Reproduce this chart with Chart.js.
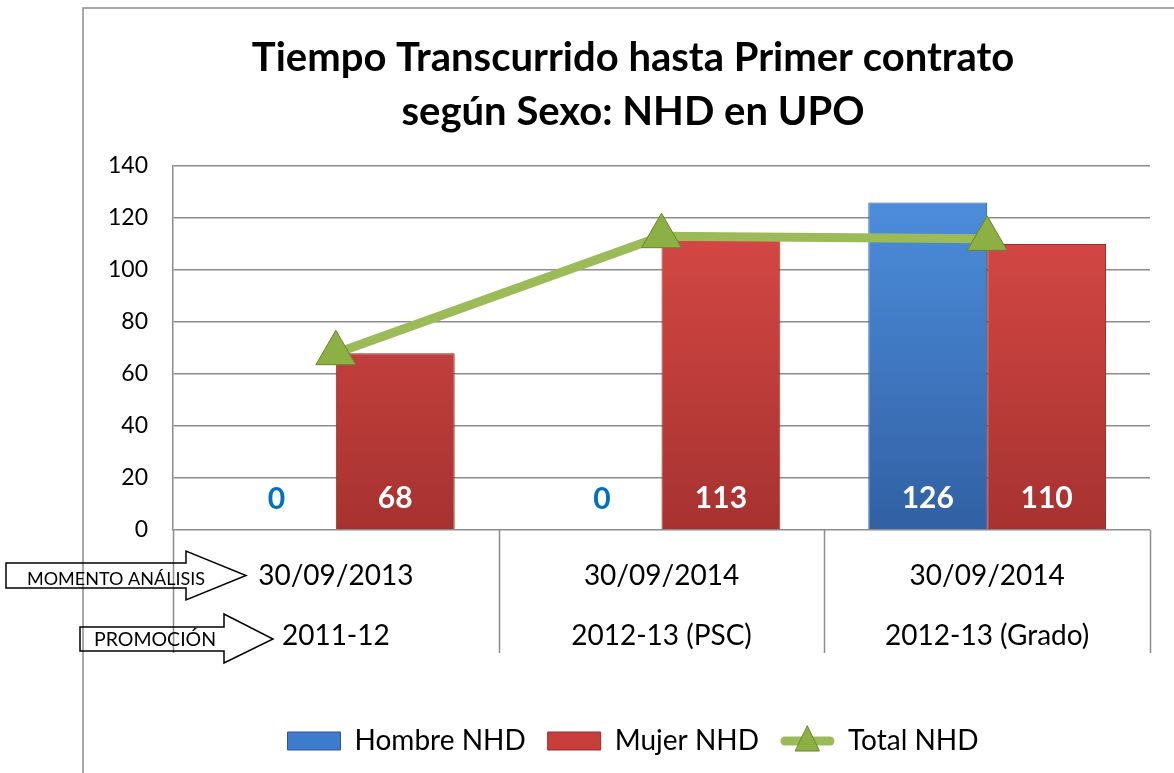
<!DOCTYPE html>
<html>
<head>
<meta charset="utf-8">
<script src="https://cdn.jsdelivr.net/npm/chart.js@4/dist/chart.umd.min.js"></script>
<style>
    html, body { margin: 0; padding: 0; background: #fff; }
    #wrap { width: 1174px; height: 773px; position: relative; }
</style>
</head>
<body>
<div id="wrap"><canvas id="nhdChart"></canvas></div>
<script>
// Data
const categories = [
    ['30/09/2013', '2011-12'],
    ['30/09/2014', '2012-13 (PSC)'],
    ['30/09/2014', '2012-13 (Grado)']
];
const hombreNHD = [0, 0, 126];
const mujerNHD = [68, 113, 110];
const totalNHD = [68, 113, 112];
const yTicks = [0, 20, 40, 60, 80, 100, 120, 140];

const FONT = 'Lato, "Open Sans", sans-serif';
const GRID = '#8c8c8c';
const colors = {
    hombre: { top: '#4f92e2', bottom: '#3160a3', flat: '#3f7bcc' },
    mujer: { top: '#de4c48', bottom: '#a63230', flat: '#c83e3b' },
    total: { line: '#9bbb59', marker: '#8cb044', markerBorder: '#66852b' }
};

function barGradient(key) {
    return function (ctx) {
        const area = ctx.chart.chartArea;
        if (!area) return colors[key].flat;
        const g = ctx.chart.ctx.createLinearGradient(0, area.top, 0, area.bottom);
        g.addColorStop(0, colors[key].top);
        g.addColorStop(1, colors[key].bottom);
        return g;
    };
}

// Values written near the foot of each bar
const barValueLabels = {
    id: 'barValueLabels',
    afterDatasetsDraw(chart) {
        const ctx = chart.ctx;
        ctx.save();
        ctx.font = 'bold 30px ' + FONT;
        ctx.textAlign = 'center';
        ctx.textBaseline = 'middle';
        [0, 1].forEach(di => {
            const meta = chart.getDatasetMeta(di);
            const data = chart.data.datasets[di].data;
            meta.data.forEach((bar, i) => {
                ctx.fillStyle = data[i] === 0 ? '#0070c0' : '#ffffff';
                ctx.fillText(String(data[i]), bar.x, bar.base - 31);
            });
        });
        ctx.restore();
    }
};

// Frame, category separators, the two arrow call-outs and the legend line marker
const decorations = {
    id: 'decorations',
    afterDraw(chart) {
        const ctx = chart.ctx;
        const x = chart.scales.x;
        const area = chart.chartArea;
        ctx.save();

        // outer frame (left and top edges)
        ctx.strokeStyle = '#8c8c8c';
        ctx.lineWidth = 1.5;
        ctx.beginPath();
        ctx.moveTo(83, 773);
        ctx.lineTo(83, 8);
        ctx.lineTo(1174, 8);
        ctx.stroke();

        // separators between the multi-level category labels
        const n = categories.length;
        const w = (x.right - x.left) / n;
        ctx.strokeStyle = GRID;
        ctx.lineWidth = 1.5;
        for (let i = 0; i <= n; i++) {
            const px = Math.round(x.left + i * w) + 0.5;
            ctx.beginPath();
            ctx.moveTo(px, area.bottom);
            ctx.lineTo(px, area.bottom + 123);
            ctx.stroke();
        }

        // arrow call-outs
        function arrow(x0, x1, yTop, yBot, headTop, headBot, tipX) {
            const mid = (yTop + yBot) / 2;
            ctx.beginPath();
            ctx.moveTo(x0, yTop);
            ctx.lineTo(x1, yTop);
            ctx.lineTo(x1, headTop);
            ctx.lineTo(tipX, mid);
            ctx.lineTo(x1, headBot);
            ctx.lineTo(x1, yBot);
            ctx.lineTo(x0, yBot);
            ctx.closePath();
            ctx.strokeStyle = '#000';
            ctx.lineWidth = 1.5;
            ctx.stroke();
        }
        arrow(6, 186, 563, 588, 551, 600, 246);
        arrow(80, 224, 627, 651, 614, 663, 273);
        ctx.fillStyle = '#000';
        ctx.textAlign = 'left';
        ctx.textBaseline = 'alphabetic';
        ctx.font = '18px ' + FONT;
        ctx.fillText('MOMENTO ANÁLISIS', 27, 585);
        ctx.font = '19.5px ' + FONT;
        ctx.fillText('PROMOCIÓN', 94, 646);

        // line + triangle for the Total legend entry
        const hb = chart.legend.legendHitBoxes[2];
        if (hb) {
            const bw = chart.legend.options.labels.boxWidth;
            const cy = hb.top + hb.height / 2;
            ctx.strokeStyle = colors.total.line;
            ctx.lineWidth = 9;
            ctx.lineCap = 'round';
            ctx.beginPath();
            ctx.moveTo(hb.left + 4, cy);
            ctx.lineTo(hb.left + bw - 4, cy);
            ctx.stroke();
            const tx = hb.left + bw / 2;
            ctx.beginPath();
            ctx.moveTo(tx, cy - 15);
            ctx.lineTo(tx + 12, cy + 10);
            ctx.lineTo(tx - 12, cy + 10);
            ctx.closePath();
            ctx.fillStyle = colors.total.marker;
            ctx.fill();
            ctx.strokeStyle = colors.total.markerBorder;
            ctx.lineWidth = 1;
            ctx.stroke();
        }
        ctx.restore();
    }
};

const ctxMain = document.getElementById('nhdChart').getContext('2d');
new Chart(ctxMain, {
    type: 'bar',
    data: {
        labels: categories,
        datasets: [
            {
                label: 'Hombre NHD',
                data: hombreNHD,
                backgroundColor: barGradient('hombre'),
                borderColor: '#2d5690',
                borderWidth: 1,
                categoryPercentage: 0.73,
                barPercentage: 1,
                order: 1
            },
            {
                label: 'Mujer NHD',
                data: mujerNHD,
                backgroundColor: barGradient('mujer'),
                borderColor: '#952d2b',
                borderWidth: 1,
                categoryPercentage: 0.73,
                barPercentage: 1,
                order: 1
            },
            {
                label: 'Total NHD',
                type: 'line',
                data: totalNHD,
                borderColor: colors.total.line,
                backgroundColor: colors.total.marker,
                borderWidth: 9,
                pointStyle: 'triangle',
                pointRadius: 23,
                pointBackgroundColor: colors.total.marker,
                pointBorderColor: colors.total.markerBorder,
                pointBorderWidth: 1,
                tension: 0,
                order: 0
            }
        ]
    },
    options: {
        responsive: true,
        maintainAspectRatio: false,
        animation: false,
        // right padding slightly negative + an empty right axis so the title and legend centre like the original
        layout: { padding: { left: 90, right: -2, top: 0, bottom: 8 } },
        plugins: {
            title: {
                display: true,
                text: ['Tiempo Transcurrido hasta Primer contrato', 'según Sexo: NHD en UPO'],
                color: '#000',
                font: { family: FONT, size: 40, weight: 'bold', lineHeight: 1.35 },
                padding: { top: 31, bottom: 27 }
            },
            legend: {
                position: 'bottom',
                labels: {
                    color: '#000',
                    font: { family: FONT, size: 28 },
                    boxWidth: 53,
                    boxHeight: 18,
                    padding: 22,
                    generateLabels(chart) {
                        return chart.data.datasets.map((ds, i) => ({
                            text: ds.label,
                            fillStyle: i === 0 ? colors.hombre.flat : i === 1 ? colors.mujer.flat : 'rgba(0,0,0,0)',
                            strokeStyle: i === 0 ? '#2d5690' : i === 1 ? '#952d2b' : 'rgba(0,0,0,0)',
                            lineWidth: i === 2 ? 0 : 1,
                            fontColor: '#000',
                            hidden: false,
                            datasetIndex: i
                        }));
                    }
                }
            },
            tooltip: { enabled: false }
        },
        scales: {
            x: {
                grid: { display: false },
                border: { display: false },
                ticks: {
                    color: '#000',
                    font: { family: FONT, size: 28, lineHeight: 2.14 },
                    padding: 8,
                    maxRotation: 0,
                    autoSkip: false
                },
                afterFit(scale) { scale.height = 175; }
            },
            y: {
                min: 0,
                max: 140,
                afterBuildTicks(scale) { scale.ticks = yTicks.map(v => ({ value: v })); },
                grid: { color: GRID, lineWidth: 1.5, drawTicks: false },
                border: { display: true, color: GRID, width: 1.5 },
                ticks: {
                    color: '#000',
                    font: { family: FONT, size: 23 },
                    padding: 25
                },
                afterFit(scale) { scale.width = 83; }
            },
            yRight: {
                position: 'right',
                min: 0,
                max: 140,
                grid: { display: false },
                border: { display: false },
                ticks: { display: false },
                afterFit(scale) { scale.width = 24; }
            }
        }
    },
    plugins: [barValueLabels, decorations]
});
</script>
</body>
</html>
